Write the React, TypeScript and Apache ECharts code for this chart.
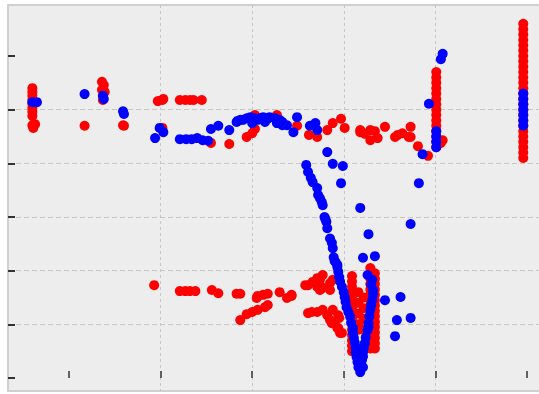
import React, { useEffect, useRef } from "react";
import * as echarts from "echarts";

// Axis tick values (no labels shown in the reference)
const xTicks = [1, 2, 3, 4, 5, 6];
const yTicks = [0, 1, 2, 3, 4, 5, 6];
const xRange = [0.334, 6.23];
const yRange = [-0.242, 6.95];

// Red series — upper band
const redUpper: number[][] = [
  [0.6, 5.4], [0.6, 5.33], [0.6, 5.26], [0.6, 5.18], [0.6, 5.11], [0.6, 5.03], [0.6, 4.96], [0.6, 4.88],
  [0.6, 4.71], [0.63, 4.73], [0.61, 4.66],
  [1.17, 4.7],
  [1.36, 5.52], [1.38, 5.46], [1.36, 5.37], [1.39, 5.33], [1.37, 5.18],
  [1.59, 4.71], [1.6, 4.7],
  [1.97, 5.16], [2.02, 5.18], [2.03, 5.2],
  [2.21, 5.18], [2.27, 5.18], [2.32, 5.18], [2.36, 5.18], [2.45, 5.18],
  [2.02, 4.66], [2.55, 4.38], [2.75, 4.36],
  [2.94, 4.49], [3.0, 4.56], [3.03, 4.64],
  [3.03, 4.9], [3.27, 4.9], [3.49, 4.7],
  [3.62, 4.53], [3.71, 4.49],
  [3.82, 4.62], [3.88, 4.75], [3.97, 4.83], [4.01, 4.66], [4.18, 4.58],
  [4.18, 4.62], [4.23, 4.55], [4.29, 4.62], [4.34, 4.6], [4.29, 4.43], [4.37, 4.47],
  [4.45, 4.68],
  [4.56, 4.49], [4.59, 4.53], [4.64, 4.56], [4.71, 4.49],
  [4.73, 4.68], [4.73, 4.49], [4.81, 4.32], [4.92, 4.14],
  [5.08, 4.43], [5.06, 4.38],
];

// Red vertical column near x = 5
const redColumnA: number[][] = [
  [5.01, 5.7], [5.01, 5.6], [5.01, 5.5], [5.01, 5.4], [5.01, 5.3], [5.01, 5.2], [5.01, 5.1], [5.01, 5.0],
  [5.01, 4.9], [5.01, 4.8], [5.01, 4.7], [5.01, 4.6], [5.01, 4.5], [5.01, 4.4], [5.01, 4.3],
];

// Red vertical column near x = 6
const redColumnB: number[][] = [
  [5.96, 6.6], [5.96, 6.5], [5.96, 6.4], [5.96, 6.3], [5.96, 6.2], [5.96, 6.1], [5.96, 6.0], [5.96, 5.9],
  [5.96, 5.8], [5.96, 5.7], [5.96, 5.6], [5.96, 5.5], [5.96, 5.4], [5.96, 5.3], [5.96, 5.2], [5.96, 5.1],
  [5.96, 5.0], [5.96, 4.9], [5.96, 4.8], [5.96, 4.7], [5.96, 4.6], [5.96, 4.5], [5.96, 4.4], [5.96, 4.3],
  [5.96, 4.2], [5.96, 4.1],
];

// Red series — lower band
const redLower: number[][] = [
  [1.93, 1.73],
  [2.21, 1.62], [2.27, 1.62], [2.32, 1.62], [2.38, 1.62],
  [2.56, 1.64], [2.63, 1.58], [2.83, 1.57], [2.87, 1.57],
  [3.05, 1.49], [3.06, 1.53], [3.12, 1.55], [3.17, 1.57],
  [3.3, 1.6], [3.38, 1.49], [3.43, 1.53], [3.43, 1.55],
  [2.87, 1.08], [2.94, 1.19], [3.0, 1.23], [3.06, 1.27], [3.14, 1.32], [3.17, 1.36],
  [3.58, 1.73], [3.61, 1.73], [3.66, 1.79], [3.71, 1.86], [3.74, 1.83], [3.77, 1.92],
  [3.71, 1.7], [3.77, 1.68], [3.85, 1.77], [3.85, 1.64], [3.88, 1.83], [3.74, 1.64],
  [3.61, 1.21], [3.65, 1.23], [3.71, 1.23], [3.77, 1.27], [3.82, 1.17], [3.85, 1.08],
  [3.87, 1.02], [3.9, 1.02], [3.93, 0.93], [3.94, 0.93], [3.96, 0.84], [3.98, 0.84],
  [3.88, 1.27], [3.94, 1.17], [3.95, 1.12],
];

// Red points inside the V
const redV: number[][] = [
  [4.09, 1.9], [4.09, 1.8], [4.09, 1.7], [4.09, 1.6], [4.09, 1.5], [4.09, 1.4], [4.09, 1.3], [4.09, 1.2],
  [4.09, 1.1], [4.09, 1.0], [4.09, 0.9], [4.09, 0.8], [4.09, 0.7], [4.09, 0.6], [4.09, 0.5],
  [4.16, 1.6], [4.16, 1.4], [4.16, 1.2], [4.16, 1.0], [4.16, 0.9],
  [4.22, 1.5], [4.22, 1.3], [4.22, 1.1], [4.22, 0.9],
  [4.29, 2.05], [4.29, 1.95], [4.29, 1.85], [4.29, 1.75], [4.29, 1.65], [4.29, 1.55], [4.29, 1.45],
  [4.29, 1.35], [4.29, 1.25], [4.29, 1.15], [4.29, 1.05], [4.29, 0.95], [4.29, 0.85], [4.29, 0.75],
  [4.29, 0.65], [4.29, 0.55],
  [4.34, 1.95], [4.34, 1.85], [4.34, 1.75], [4.34, 1.65], [4.34, 1.55], [4.34, 1.45], [4.34, 1.35],
  [4.34, 1.25], [4.34, 1.15], [4.34, 1.05], [4.34, 0.95], [4.34, 0.85], [4.34, 0.75], [4.34, 0.65],
  [4.34, 0.55],
];

// Blue series — upper band
const blueUpper: number[][] = [
  [0.6, 5.14], [0.65, 5.14],
  [1.17, 5.29],
  [1.37, 5.26], [1.38, 5.2],
  [1.59, 4.97], [1.6, 4.92],
  [1.99, 4.66], [2.03, 4.58], [1.94, 4.47],
  [2.21, 4.45], [2.28, 4.45], [2.34, 4.45], [2.4, 4.47], [2.46, 4.43], [2.52, 4.42],
  [2.55, 4.64], [2.63, 4.7], [2.75, 4.62],
  [2.83, 4.77], [2.87, 4.81],
  [2.84, 4.79], [2.9, 4.81], [2.94, 4.84], [2.98, 4.86], [3.03, 4.84], [3.06, 4.81], [3.09, 4.84],
  [3.12, 4.86], [3.17, 4.83], [3.19, 4.86], [3.25, 4.84], [3.3, 4.81], [3.33, 4.77],
  [3.0, 4.75], [3.14, 4.77], [3.27, 4.75], [3.33, 4.71],
  [3.38, 4.71], [3.45, 4.58], [3.49, 4.86],
  [3.63, 4.7], [3.69, 4.75], [3.71, 4.62],
  [3.82, 4.21], [3.88, 3.99], [3.99, 3.95], [3.97, 3.63],
  [4.93, 5.11], [5.06, 5.94], [5.08, 6.04], [4.86, 4.17], [4.82, 3.63],
  [5.01, 4.6], [5.01, 4.5], [5.01, 4.4], [5.01, 4.3],
  [5.96, 5.3], [5.96, 5.2], [5.96, 5.1], [5.96, 5.0], [5.96, 4.9], [5.96, 4.8], [5.96, 4.7],
];

// Blue series — descending chain and V
const blueV: number[][] = [
  [3.59, 3.97], [3.61, 3.84], [3.64, 3.73], [3.66, 3.65], [3.71, 3.54], [3.72, 3.41], [3.74, 3.35],
  [3.76, 3.28], [3.77, 3.22], [3.79, 3.0], [3.8, 2.96], [3.81, 2.91], [3.82, 2.79], [3.85, 2.6],
  [3.87, 2.52], [3.88, 2.42], [3.89, 2.25], [3.9, 2.18], [3.91, 2.16], [3.93, 2.11], [3.93, 2.07],
  [3.94, 1.98], [3.95, 1.88], [3.96, 1.8], [3.98, 1.7], [4.0, 1.6], [4.01, 1.51], [4.02, 1.42],
  [4.03, 1.32], [4.05, 1.23], [4.07, 1.14], [4.08, 1.03], [4.1, 0.93], [4.1, 0.84], [4.11, 0.75],
  [4.12, 0.66], [4.13, 0.58], [4.13, 0.48], [4.14, 0.39], [4.15, 0.3], [4.16, 0.2], [4.18, 0.11],
  [4.26, 1.92], [4.31, 1.83], [4.3, 1.74], [4.32, 1.64], [4.32, 1.55], [4.31, 1.45], [4.3, 1.36],
  [4.29, 1.27], [4.28, 1.15], [4.27, 1.02], [4.27, 0.95], [4.26, 0.89], [4.24, 0.76], [4.23, 0.65],
  [4.22, 0.56], [4.21, 0.48], [4.21, 0.4], [4.2, 0.34], [4.19, 0.27], [4.18, 0.2], [4.21, 0.2],
];

// Blue scattered points around the V
const blueScatter: number[][] = [
  [4.18, 3.17], [4.73, 2.87], [4.27, 2.68], [4.34, 2.27], [4.21, 2.24],
  [4.45, 1.45], [4.62, 1.51], [4.58, 1.08], [4.73, 1.12], [4.56, 0.78],
];

export default function App() {
  const ref = useRef<HTMLDivElement>(null);

  useEffect(() => {
    if (!ref.current) return;
    const chart = echarts.init(ref.current, null, { renderer: "svg" });
    const axisCommon = {
      type: "value" as const,
      minInterval: 1,
      maxInterval: 1,
      axisLabel: { show: false },
      axisLine: { show: false },
    };
    chart.setOption({
      animation: false,
      backgroundColor: "#ffffff",
      grid: {
        left: 8,
        top: 5,
        right: 12,
        bottom: 3,
        show: true,
        backgroundColor: "#ededed",
        borderColor: "#d0d0d0",
        borderWidth: 2,
      },
      xAxis: {
        ...axisCommon,
        min: xRange[0],
        max: xRange[1],
        splitNumber: 6,
        axisTick: {
          show: true,
          inside: true,
          length: 7,
          customValues: xTicks,
          lineStyle: { color: "#333333", width: 1.5 },
        },
        splitLine: {
          show: true,
          showMinLine: false,
          showMaxLine: false,
          lineStyle: { color: "#c6c6c6", type: [3, 3], width: 1 },
        },
      },
      yAxis: {
        ...axisCommon,
        min: yRange[0],
        max: yRange[1],
        splitNumber: 7,
        axisTick: {
          show: true,
          inside: true,
          length: 7,
          customValues: yTicks,
          lineStyle: { color: "#333333", width: 2 },
        },
        splitLine: {
          show: true,
          showMinLine: false,
          showMaxLine: false,
          lineStyle: { color: "#c6c6c6", type: [5, 3], width: 1 },
        },
      },
      series: [
        {
          name: "red",
          type: "scatter",
          symbolSize: 10,
          itemStyle: { color: "#ff0000", opacity: 1 },
          data: [...redUpper, ...redColumnA, ...redColumnB, ...redLower, ...redV],
          z: 2,
        },
        {
          name: "blue",
          type: "scatter",
          symbolSize: 10,
          itemStyle: { color: "#0000ff", opacity: 1 },
          data: [...blueUpper, ...blueV, ...blueScatter],
          z: 3,
        },
      ],
    });
    return () => chart.dispose();
  }, []);

  return (
    <div
      style={{
        position: "fixed",
        left: 0,
        top: 0,
        width: 539,
        height: 394,
        overflow: "hidden",
        background: "#ffffff",
      }}
    >
      <div ref={ref} style={{ width: 560, height: 394 }} />
    </div>
  );
}
